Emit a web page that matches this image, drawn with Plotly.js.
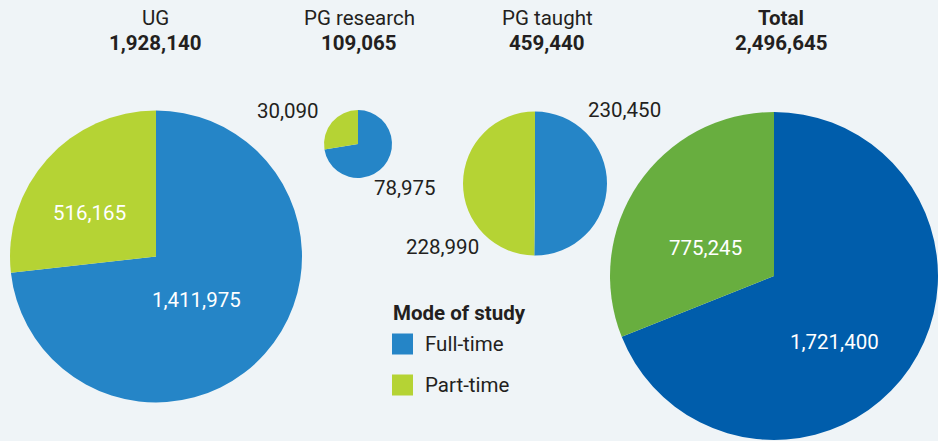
<!DOCTYPE html>
<html>
<head>
<meta charset="utf-8">
<script src="https://cdn.plot.ly/plotly-3.0.1.min.js"></script>
<style>
html,body{margin:0;padding:0;background:#eff4f7;}
#chart{width:938px;height:441px;}
</style>
</head>
<body>
<div id="chart"></div>
<script>
// ---- data ----
const categories = ['UG', 'PG research', 'PG taught', 'Total'];
const modes = ['Full-time', 'Part-time'];
const fullTime = [1411975, 78975, 230450, 1721400];
const partTime = [516165, 30090, 228990, 775245];
const totals = [1928140, 109065, 459440, 2496645];

// ---- styling / layout ----
const W = 938, H = 441;
const colorsStd = ['#2585c7', '#b5d334'];
const colorsTotal = ['#005dab', '#68ae3f'];
const pieColors = [colorsStd, colorsStd, colorsStd, colorsTotal];
const centers = [[156, 256.5], [358, 144], [535, 183.5], [775, 276]];
const radii = [146, 34, 72, 165];
const FONT = 'Roboto, "DejaVu Sans", sans-serif';
const TXT = '#231f20';
const FS = 20.5;

function fmt(v) { return v.toLocaleString('en-US'); }

const traces = categories.map((c, i) => {
  const [cx, cy] = centers[i];
  const r = radii[i];
  const y0 = Math.max(0, (H - cy - r) / H);
  const y1 = Math.min(1, (H - cy + r) / H);
  return {
    type: 'pie',
    name: c,
    labels: modes,
    values: [fullTime[i], partTime[i]],
    sort: false,
    direction: 'clockwise',
    rotation: 0,
    textinfo: 'none',
    hoverinfo: 'label+value',
    showlegend: false,
    marker: { colors: pieColors[i], line: { width: 0 } },
    domain: { x: [(cx - r) / W, (cx + r) / W], y: [y0, y1] }
  };
});

// header annotations
const headerX = [155, 359, 547, 781];
const annotations = [];
categories.forEach((c, i) => {
  const isTotal = c === 'Total';
  annotations.push({
    x: headerX[i] / W, y: 1 - 18 / H, xref: 'paper', yref: 'paper',
    text: isTotal ? '<b>' + c + '</b>' : c, showarrow: false,
    xanchor: 'center', yanchor: 'middle',
    font: { family: FONT, size: FS, color: TXT }
  });
  annotations.push({
    x: headerX[i] / W, y: 1 - 43 / H, xref: 'paper', yref: 'paper',
    text: '<b>' + fmt(totals[i]) + '</b>', showarrow: false,
    xanchor: 'center', yanchor: 'middle',
    font: { family: FONT, size: FS, color: TXT }
  });
});

// value labels: [category index, series ('full'/'part'), x, y, anchor, colour]
const labelPos = [
  [0, 'part', 89, 213, 'center', '#ffffff'],
  [0, 'full', 196, 300, 'center', '#ffffff'],
  [1, 'part', 321, 111, 'right', TXT],
  [1, 'full', 372, 188, 'left', TXT],
  [2, 'full', 586, 110, 'left', TXT],
  [2, 'part', 481, 247, 'right', TXT],
  [3, 'part', 705, 248, 'center', '#ffffff'],
  [3, 'full', 834, 342, 'center', '#ffffff']
];
labelPos.forEach(([i, s, x, y, anc, col]) => {
  const v = s === 'full' ? fullTime[i] : partTime[i];
  annotations.push({
    x: x / W, y: 1 - y / H, xref: 'paper', yref: 'paper',
    text: fmt(v), showarrow: false, xanchor: anc, yanchor: 'middle',
    font: { family: FONT, size: FS, color: col }
  });
});

// legend
annotations.push({
  x: 391 / W, y: 1 - 313 / H, xref: 'paper', yref: 'paper',
  text: '<b>Mode of study</b>', showarrow: false, xanchor: 'left', yanchor: 'middle',
  font: { family: FONT, size: FS, color: TXT }
});
const shapes = [];
const legendY = [344, 385];
modes.forEach((m, k) => {
  shapes.push({
    type: 'rect', xref: 'paper', yref: 'paper',
    x0: 392 / W, x1: 413 / W, y0: 1 - (legendY[k] + 10.5) / H, y1: 1 - (legendY[k] - 10.5) / H,
    fillcolor: colorsStd[k], line: { width: 0 }
  });
  annotations.push({
    x: 423 / W, y: 1 - legendY[k] / H, xref: 'paper', yref: 'paper',
    text: m, showarrow: false, xanchor: 'left', yanchor: 'middle',
    font: { family: FONT, size: FS, color: TXT }
  });
});

const layout = {
  width: W, height: H,
  margin: { l: 0, r: 0, t: 0, b: 0, pad: 0 },
  paper_bgcolor: '#eff4f7',
  plot_bgcolor: '#eff4f7',
  showlegend: false,
  annotations: annotations,
  shapes: shapes,
  font: { family: FONT, color: TXT }
};

Plotly.newPlot('chart', traces, layout, { displayModeBar: false, staticPlot: true });
</script>
</body>
</html>
